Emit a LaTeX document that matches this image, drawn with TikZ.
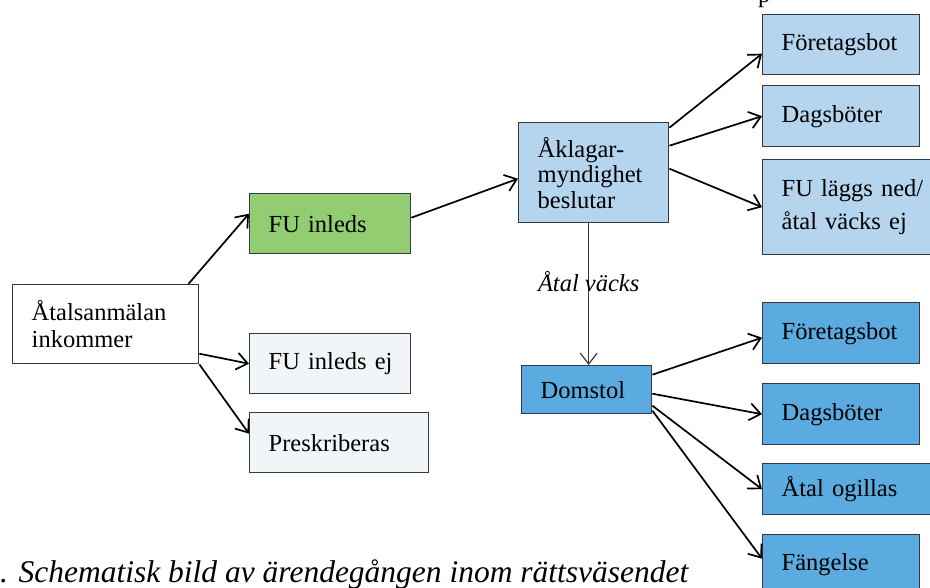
\documentclass[tikz,border=0pt]{standalone}
\usepackage{fontspec}
\setmainfont{Liberation Serif}
\usetikzlibrary{arrows.meta}

\definecolor{edge}{RGB}{50,58,70}
\definecolor{fugreen}{RGB}{146,205,114}
\definecolor{paleblue}{RGB}{242,245,247}
\definecolor{lightblue}{RGB}{181,213,239}
\definecolor{midblue}{RGB}{92,171,224}

\newcommand{\boxfont}{\fontsize{24.5}{27}\selectfont}
\newcommand{\capfont}{\fontsize{31.5}{36}\selectfont\itshape}

\begin{document}
\begin{tikzpicture}[x=1pt,y=1pt]
\tikzstyle{every node}+=[inner sep=0pt]
\tikzstyle{box}=[draw=edge, line width=1.4pt, anchor=north west, inner xsep=19pt, align=left, font=\boxfont]
\tikzstyle{arr}=[-{Straight Barb[length=11pt,width=17pt]}, line width=1.7pt]
\useasboundingbox (0,0) rectangle (930,-588);

% left part
\node[box, fill=white, text width=148pt, minimum height=79pt] (anm) at (12,-284) {Åtalsanmälan\\inkommer};
\node[box, fill=fugreen, text width=123pt, minimum height=60pt] (fu) at (249,-193) {\mbox{FU inleds}};
\node[box, fill=paleblue, text width=123pt, minimum height=60pt] (fuej) at (249,-333) {\mbox{FU inleds ej}};
\node[box, fill=paleblue, text width=141pt, minimum height=60pt] (presk) at (249,-412) {Preskriberas};

% prosecutor
\node[box, fill=lightblue, text width=112pt, minimum height=100pt] (akl) at (518,-122) {Åklagar-\\[-1.5pt]myndighet\\[-1.5pt]beslutar};
\node[box, fill=lightblue, text width=119pt, minimum height=60pt] (fb1) at (762,-14) {Företagsbot};
\node[box, fill=lightblue, text width=119pt, minimum height=61pt] (db1) at (762,-85) {Dagsböter};
\node[box, fill=lightblue, text width=132pt, minimum height=95pt] (fuln) at (762,-159) {\mbox{FU läggs ned/}\\[6pt]\mbox{åtal väcks ej}};

% court
\node[box, fill=midblue, text width=92pt, minimum height=48pt] (dom) at (521,-365) {Domstol};
\node[box, fill=midblue, text width=119pt, minimum height=61pt] (fb2) at (762,-302) {Företagsbot};
\node[box, fill=midblue, text width=119pt, minimum height=61pt] (db2) at (762,-383) {Dagsböter};
\node[box, fill=midblue, text width=132pt, minimum height=51pt] (ogi) at (762,-463) {\mbox{Åtal ogillas}};
\node[box, fill=midblue, text width=119pt, minimum height=60pt] (fan) at (762,-534) {Fängelse};

\draw[arr] ([xshift=-11pt]anm.north east) -- ([yshift=10pt]fu.west);
\draw[arr] ([yshift=-29.5pt]anm.east) -- (fuej.west);
\draw[arr] (anm.south east) -- ([yshift=9pt]presk.west);
\draw[arr] ([yshift=6pt]fu.east) -- ([yshift=-6pt]akl.west);

\draw[arr] ([yshift=45pt]akl.east) -- ([yshift=-9pt]fb1.west);
\draw[arr] ([yshift=27pt]akl.east) -- (db1.west);
\draw[arr] ([yshift=4pt]akl.east) -- (fuln.west);

\draw[-{Straight Barb[length=11pt,width=17pt]}, draw=edge, line width=1.2pt] ([xshift=2pt]dom.north |- akl.south) -- node[pos=0.48, anchor=base, font=\boxfont\itshape] (vacks) {Åtal väcks} ([xshift=2pt]dom.north);

\draw[arr] ([yshift=15pt]dom.east) -- ([yshift=-4.5pt]fb2.west);
\draw[arr] ([yshift=-4pt]dom.east) -- (db2.west);
\draw[arr] ([yshift=-16pt]dom.east) -- (ogi.west);
\draw[arr] ([yshift=-21pt]dom.east) -- ([yshift=6pt]fan.west);

% cut-off text at the edges
\node[anchor=base west, font=\boxfont] (ptop) at (758,-3) {p};
\node[anchor=base west, font=\capfont] (caption) at (0,-582) {. Schematisk bild av ärendegången inom rättsväsendet};
\end{tikzpicture}
\end{document}
